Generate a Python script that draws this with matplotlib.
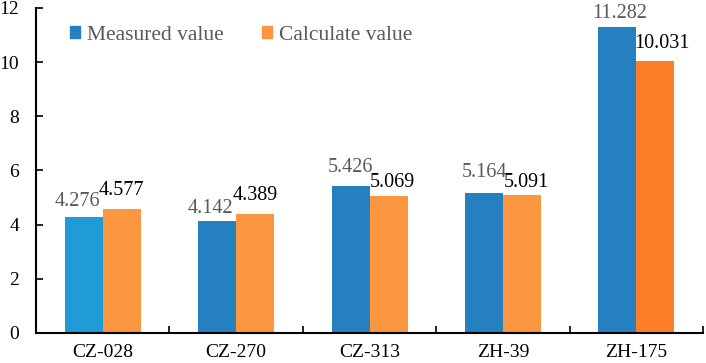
import numpy as np
import matplotlib.pyplot as plt

plt.rcParams['font.family'] = ['Liberation Serif', 'DejaVu Serif']

wells = ["CZ-028", "CZ-270", "CZ-313", "ZH-39", "ZH-175"]
measured = [4.276, 4.142, 5.426, 5.164, 11.282]
calculated = [4.577, 4.389, 5.069, 5.091, 10.031]

meas_colors = ["#1f9bd7", "#2580c0", "#2580c0", "#2580c0", "#2580c0"]
calc_colors = ["#fd9640", "#fd9640", "#fd9640", "#fd9640", "#fe7f27"]

# label nudges (pixels), as placed in the original
meas_dx = [-6, -7, 0, 0, 2.5]
meas_dy = [11, 8, 14, 16, 9]
calc_dx = [0, 0, 4, 4.5, 6]
calc_dy = [14, 14, 9, 8, 13]

fig = plt.figure(figsize=(7.06, 3.63), dpi=100)
ax = fig.add_axes([0.051, 0.083, 0.945, 0.895])

x = np.arange(len(wells))
w = 0.285
b1 = ax.bar(x - w / 2, measured, w, color=meas_colors, label="Measured value")
b2 = ax.bar(x + w / 2, calculated, w, color=calc_colors, label="Calculate value")

for rect, v, dx, dy in zip(b1, measured, meas_dx, meas_dy):
    ax.annotate("%.3f" % v, (rect.get_x() + rect.get_width() / 2, v),
                xytext=(dx, dy), textcoords="offset pixels",
                ha="center", va="baseline", fontsize=14.5, color="#595959")
for rect, v, dx, dy in zip(b2, calculated, calc_dx, calc_dy):
    ax.annotate("%.3f" % v, (rect.get_x() + rect.get_width() / 2, v),
                xytext=(dx, dy), textcoords="offset pixels",
                ha="center", va="baseline", fontsize=14.5, color="black")

ax.set_xlim(-0.5, len(wells) - 0.5)
ax.set_ylim(0, 12)
ax.set_yticks(range(0, 13, 2))
ax.set_xticks(x)
ax.set_xticklabels(wells)
ax.set_xticks(np.arange(-0.5, len(wells), 1), minor=True)
ax.tick_params(axis="x", which="major", length=0, labelsize=14, pad=8)
ax.tick_params(axis="x", which="minor", direction="in", length=5, width=1.2)
ax.tick_params(axis="y", direction="in", length=5, width=1.2, labelsize=14, pad=12)

for s in ["top", "right"]:
    ax.spines[s].set_visible(False)
for s in ["left", "bottom"]:
    ax.spines[s].set_linewidth(1.5)

leg = ax.legend(loc="upper left", bbox_to_anchor=(0.0215, 1.005), ncol=2, frameon=False,
                fontsize=15.5, handlelength=0.47, handleheight=0.47, handletextpad=0.33,
                columnspacing=1.77, labelcolor="#595959")
leg.legend_handles[0].set_color("#2580c0")
leg.legend_handles[1].set_color("#fd9640")

fig.savefig("out.png", dpi=100)
